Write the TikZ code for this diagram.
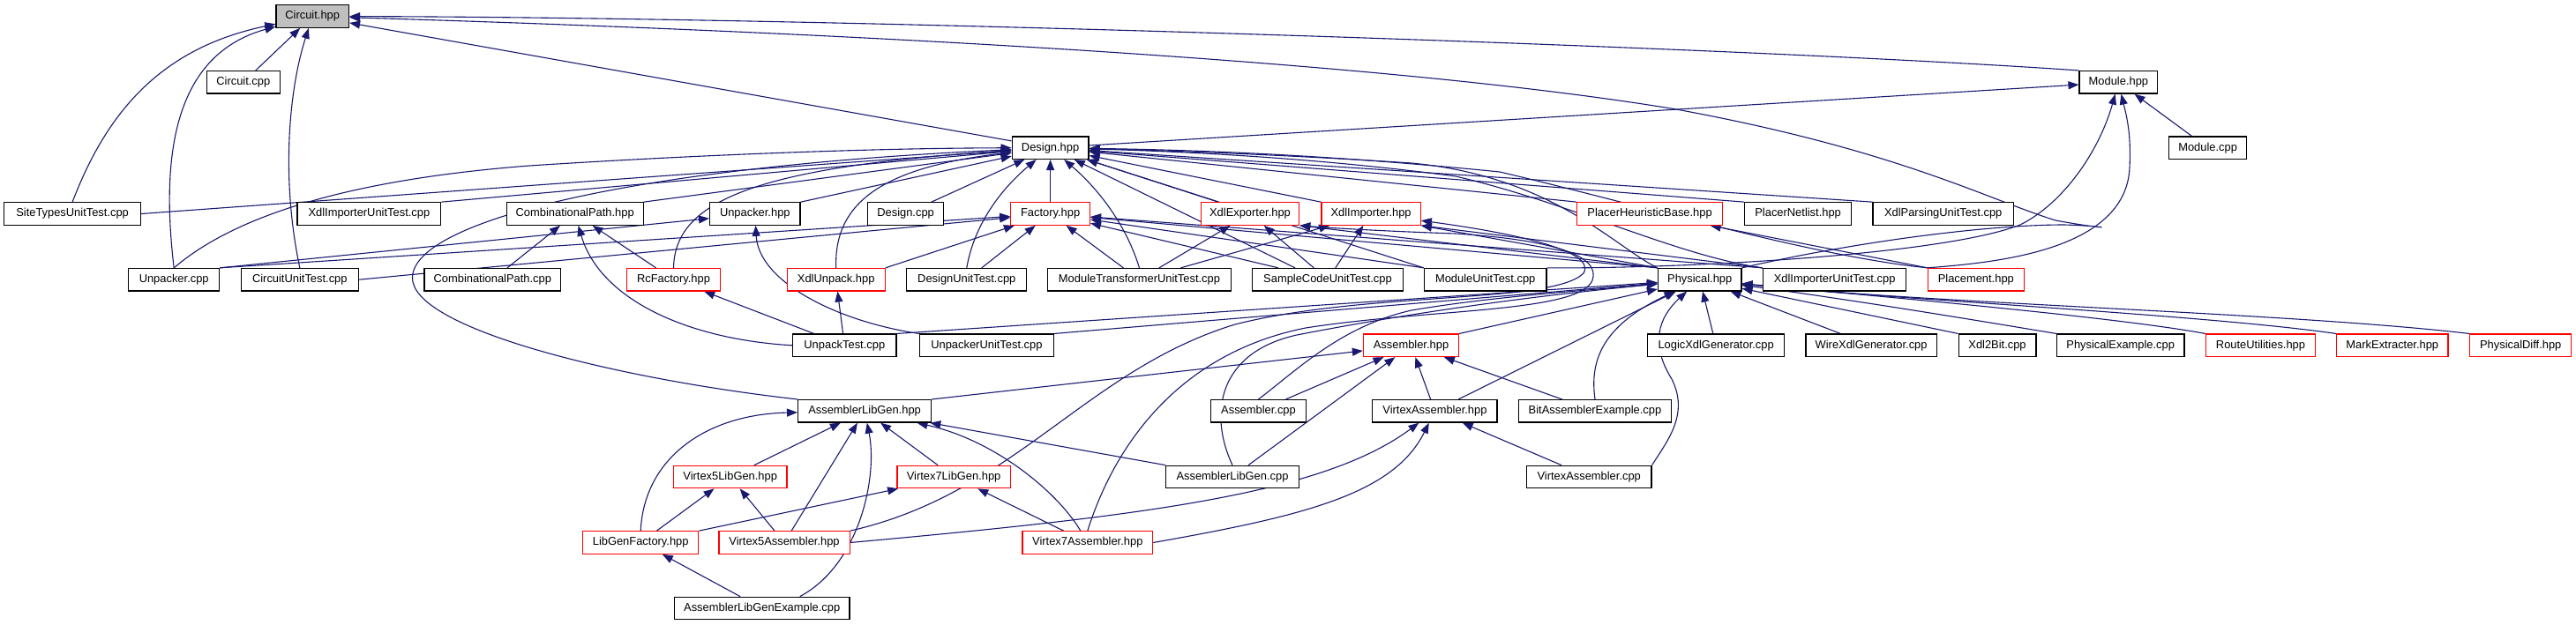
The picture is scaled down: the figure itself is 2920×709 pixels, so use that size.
\documentclass[tikz,border=0pt]{standalone}
\usepackage{fontspec}
\setmainfont{Liberation Sans}
\usetikzlibrary{arrows.meta}
\definecolor{edgec}{RGB}{25,25,112}
\definecolor{grayfill}{RGB}{191,191,191}
\pgfdeclarelayer{bg}
\pgfsetlayers{bg,main}
\begin{document}
\begin{tikzpicture}[x=1pt,y=-1pt,
  box/.style={draw=black,line width=1.2pt,fill=white,minimum height=25.5pt,inner sep=0pt,font=\fontsize{12.9pt}{15pt}\selectfont},
  redbox/.style={box,draw=red},
  dep/.style={draw=edgec,line width=1.1pt,-{Triangle[length=12pt,width=9pt]}}]
\path[use as bounding box] (0,0) rectangle (2920,709);
% rank 0
\node[box,fill=grayfill,minimum width=82.6pt] (circuithpp) at (354.2,18.5) {Circuit.hpp};
% rank 1
\node[box,minimum width=82.6pt] (circuitcpp) at (275.8,93.3) {Circuit.cpp};
\node[box,minimum width=88.7pt] (modulehpp) at (2401.4,93.3) {Module.hpp};
% rank 2
\node[box,minimum width=86.8pt] (designhpp) at (1190.6,167.7) {Design.hpp};
\node[box,minimum width=88.3pt] (modulecpp) at (2502.6,167.7) {Module.cpp};
% rank 3
\node[box,minimum width=154.8pt] (sitetypes) at (82.1,242.5) {SiteTypesUnitTest.cpp};
\node[box,minimum width=162.7pt] (xdlimputa) at (418.4,242.5) {XdlImporterUnitTest.cpp};
\node[box,minimum width=154.8pt] (combhpp) at (651.7,242.5) {CombinationalPath.hpp};
\node[box,minimum width=102.4pt] (unpackerhpp) at (855.8,242.5) {Unpacker.hpp};
\node[box,minimum width=86.4pt] (designcpp) at (1026.6,242.5) {Design.cpp};
\node[redbox,minimum width=89.6pt] (factoryhpp) at (1190.6,242.5) {Factory.hpp};
\node[redbox,minimum width=111.3pt] (xdlexporter) at (1417,242.5) {XdlExporter.hpp};
\node[redbox,minimum width=112.2pt] (xdlimporter) at (1554.1,242.5) {XdlImporter.hpp};
\node[redbox,minimum width=164.8pt] (placerheur) at (1870.1,242.5) {PlacerHeuristicBase.hpp};
\node[box,minimum width=120.7pt] (placernet) at (2038.1,242.5) {PlacerNetlist.hpp};
\node[box,minimum width=159.3pt] (xdlparsing) at (2202.7,242.5) {XdlParsingUnitTest.cpp};
% rank 4
\node[box,minimum width=102.9pt] (unpackercpp) at (197.2,317.2) {Unpacker.cpp};
\node[box,minimum width=133.1pt] (circuitut) at (339.8,317.2) {CircuitUnitTest.cpp};
\node[box,minimum width=154.8pt] (combcpp) at (558.3,317.2) {CombinationalPath.cpp};
\node[redbox,minimum width=105.7pt] (rcfactory) at (763.5,317.2) {RcFactory.hpp};
\node[redbox,minimum width=110.9pt] (xdlunpack) at (947.7,317.2) {XdlUnpack.hpp};
\node[box,minimum width=135.9pt] (designut) at (1095.8,317.2) {DesignUnitTest.cpp};
\node[box,minimum width=207.7pt] (modtrans) at (1291.5,317.2) {ModuleTransformerUnitTest.cpp};
\node[box,minimum width=170.3pt] (samplecode) at (1505,317.2) {SampleCodeUnitTest.cpp};
\node[box,minimum width=138.7pt] (moduleut) at (1683.7,317.2) {ModuleUnitTest.cpp};
\node[box,minimum width=94.4pt] (physicalhpp) at (1926.7,317.2) {Physical.hpp};
\node[box,minimum width=162.4pt] (xdlimputb) at (2079.6,317.2) {XdlImporterUnitTest.cpp};
\node[redbox,minimum width=108.7pt] (placement) at (2239.8,317.2) {Placement.hpp};
% rank 5
\node[box,minimum width=117.5pt] (unpacktest) at (957.3,391.8) {UnpackTest.cpp};
\node[box,minimum width=152pt] (unpackerut) at (1118.4,391.8) {UnpackerUnitTest.cpp};
\node[redbox,minimum width=108.1pt] (assemblerhpp) at (1599.5,391.8) {Assembler.hpp};
\node[box,minimum width=154.8pt] (logicxdl) at (1945.1,391.8) {LogicXdlGenerator.cpp};
\node[box,minimum width=148.2pt] (wirexdl) at (2121.1,391.8) {WireXdlGenerator.cpp};
\node[box,minimum width=87.8pt] (xdltobit) at (2264,391.8) {Xdl2Bit.cpp};
\node[box,minimum width=144.4pt] (physex) at (2403.7,391.8) {PhysicalExample.cpp};
\node[redbox,minimum width=124.1pt] (routeutil) at (2562.5,391.8) {RouteUtilities.hpp};
\node[redbox,minimum width=126.4pt] (markext) at (2711.8,391.8) {MarkExtracter.hpp};
\node[redbox,minimum width=115.2pt] (physdiff) at (2857.2,391.8) {PhysicalDiff.hpp};
% rank 6
\node[box,minimum width=151pt] (alghpp) at (980.1,466.3) {AssemblerLibGen.hpp};
\node[box,minimum width=107.6pt] (assemblercpp) at (1426.5,466.3) {Assembler.cpp};
\node[box,minimum width=141.1pt] (vahpp) at (1626.4,466.3) {VirtexAssembler.hpp};
\node[box,minimum width=173.2pt] (bitasm) at (1808,466.3) {BitAssemblerExample.cpp};
% rank 7
\node[redbox,minimum width=128.4pt] (vfivelg) at (827.7,541) {Virtex5LibGen.hpp};
\node[redbox,minimum width=128.4pt] (vsevenlg) at (1081.1,541) {Virtex7LibGen.hpp};
\node[box,minimum width=150.5pt] (algcpp) at (1397,541) {AssemblerLibGen.cpp};
\node[box,minimum width=141.6pt] (vacpp) at (1801.2,541) {VirtexAssembler.cpp};
% rank 8
\node[redbox,minimum width=131.1pt] (lgf) at (726.2,615.5) {LibGenFactory.hpp};
\node[redbox,minimum width=148.2pt] (vfiveasm) at (889,615.5) {Virtex5Assembler.hpp};
\node[redbox,minimum width=147.7pt] (vsevenasm) at (1232.8,615.5) {Virtex7Assembler.hpp};
% rank 9
\node[box,minimum width=198.7pt] (lgex) at (863.7,690) {AssemblerLibGenExample.cpp};

\begin{pgfonlayer}{bg}
% into Circuit.hpp
\draw[dep] (circuitcpp) -- (circuithpp);
\draw[dep] (sitetypes.north) .. controls (120,130) and (180,55) .. (circuithpp);
\draw[dep] (unpackercpp.north) .. controls (180,160) and (205,60) .. (circuithpp);
\draw[dep] (circuitut.north) .. controls (318,200) and (328,100) .. (circuithpp);
\draw[dep] (designhpp) -- (circuithpp);
\draw[dep] (modulehpp.north west) .. controls (2000,55) and (1000,20) .. (circuithpp);
\draw[dep] (physicalhpp.north east) .. controls (2100,275) and (2250,255) .. (2340,255)
  .. controls (2400,257) and (2395,262) .. (2330,250)
  .. controls (2250,225) and (2150,170) .. (1900,124)
  .. controls (1550,66) and (900,35) .. (circuithpp);
% into Module.hpp
\draw[dep] (designhpp) -- (modulehpp);
\draw[dep] (modulecpp) -- (modulehpp);
\draw[dep] (moduleut.north east) .. controls (1900,305) and (2200,290) .. (2290,255)
  .. controls (2340,230) and (2380,170) .. (modulehpp);
\draw[dep] (placement.north west) .. controls (2260,298) and (2410,285) .. (2414,190)
  .. controls (2416,150) and (2410,130) .. (modulehpp);
% into Design.hpp
\draw[dep] (sitetypes.east) -- (designhpp);
\draw[dep] (xdlimputa.north east) -- (designhpp);
\draw[dep] (combhpp.north east) -- (designhpp);
\draw[dep] (unpackerhpp.north east) -- (designhpp);
\draw[dep] (designcpp) -- (designhpp);
\draw[dep] (factoryhpp) -- (designhpp);
\draw[dep] (unpackercpp.north) .. controls (260,250) and (380,205) .. (600,188)
  .. controls (800,175) and (1000,168) .. (designhpp);
\draw[dep] (rcfactory.north) .. controls (765,230) and (850,190) .. (designhpp);
\draw[dep] (xdlunpack.north) .. controls (945,230) and (1000,190) .. (designhpp);
\draw[dep] (designut.north) .. controls (1105,250) and (1140,210) .. (designhpp);
\draw[dep] (modtrans.north) .. controls (1275,250) and (1240,210) .. (designhpp);
\draw[dep] ([xshift=-37pt]samplecode.north) -- (designhpp);
\draw[dep] (alghpp.north west) .. controls (700,430) and (480,375) .. (468,320)
  .. controls (455,255) and (700,190) .. (designhpp);
\draw[dep] ([xshift=-36pt]xdlexporter.north) -- (designhpp);
\draw[dep] (xdlimporter.north west) -- (designhpp);
\draw[dep] (placerheur.north west) -- (designhpp);
\draw[dep] (placernet.north west) -- (designhpp);
\draw[dep] (xdlparsing.north west) -- (designhpp);
\draw[dep] (moduleut.north west) -- (designhpp);
\draw[dep] (physicalhpp.north west) .. controls (1830,280) and (1760,200) .. (1600,185)
  .. controls (1450,175) and (1300,170) .. (designhpp);
\draw[dep] (xdlimputb.north west) .. controls (1900,290) and (1780,230) .. (1650,200)
  .. controls (1500,180) and (1350,172) .. (designhpp);
\draw[dep] (placement.north west) .. controls (2050,290) and (1850,230) .. (1700,195)
  .. controls (1500,175) and (1350,170) .. (designhpp);
% into Factory.hpp
\draw[dep] (unpackercpp.north east) -- (factoryhpp);
\draw[dep] (circuitut.east) -- (factoryhpp);
\draw[dep] (xdlunpack.north east) -- (factoryhpp);
\draw[dep] (designut) -- (factoryhpp);
\draw[dep] (modtrans) -- (factoryhpp);
\draw[dep] (samplecode) -- (factoryhpp);
\draw[dep] (moduleut.north west) -- (factoryhpp);
\draw[dep] (physicalhpp.north west) -- (factoryhpp);
\draw[dep] (xdlimputb.north west) -- (factoryhpp);
% into Unpacker.hpp
\draw[dep] (unpackercpp.north east) -- (unpackerhpp);
\draw[dep] (unpackerut.north west) .. controls (950,365) and (860,320) .. (unpackerhpp);
% into XdlExporter / XdlImporter
\draw[dep] (modtrans) -- (xdlexporter);
\draw[dep] (samplecode) -- (xdlexporter);
\draw[dep] (physicalhpp.north west) -- (xdlexporter.south east);
\draw[dep] (modtrans) -- (xdlimporter);
\draw[dep] (samplecode) -- (xdlimporter);
\draw[dep] (physicalhpp.north west) -- (xdlimporter.south east);
\draw[dep] (xdlimputb.north west) -- (xdlimporter.south east);
\draw[dep] (vfiveasm.north east) .. controls (1150,560) and (1230,420) .. (1400,368)
  .. controls (1550,330) and (1760,345) .. (1795,310)
  .. controls (1810,285) and (1720,265) .. (xdlimporter);
\draw[dep] (vsevenasm.north) .. controls (1265,500) and (1340,400) .. (1480,372)
  .. controls (1620,350) and (1790,355) .. (1805,318)
  .. controls (1815,290) and (1760,272) .. (1650,265)
  .. controls (1560,262) and (1500,258) .. (xdlexporter.south east);
% into PlacerHeuristicBase
\draw[dep] (placement.north west) -- (placerheur);
% into CombinationalPath.hpp
\draw[dep] (combcpp) -- (combhpp);
\draw[dep] (rcfactory) -- (combhpp);
\draw[dep] (unpacktest.west) .. controls (780,385) and (680,340) .. (combhpp);
% into RcFactory / XdlUnpack
\draw[dep] (unpacktest) -- (rcfactory);
\draw[dep] (unpacktest) -- (xdlunpack);
% into Physical.hpp
\draw[dep] (unpacktest.north east) -- (physicalhpp);
\draw[dep] (unpackerut.north east) -- (physicalhpp);
\draw[dep] (assemblerhpp.north east) -- (physicalhpp);
\draw[dep] (algcpp.north) .. controls (1370,470) and (1380,400) .. (1470,380)
  .. controls (1650,345) and (1800,330) .. (physicalhpp);
\draw[dep] (assemblercpp.north) .. controls (1470,420) and (1520,370) .. (1600,352)
  .. controls (1700,335) and (1820,328) .. (physicalhpp);
\draw[dep] (vahpp) -- (physicalhpp);
\draw[dep] (bitasm.north) .. controls (1802,410) and (1815,370) .. (physicalhpp);
\draw[dep] (vacpp.north east) .. controls (1890,500) and (1915,470) .. (1895,430)
  .. controls (1870,390) and (1880,360) .. (physicalhpp);
\draw[dep] (logicxdl) -- (physicalhpp);
\draw[dep] (wirexdl) -- (physicalhpp);
\draw[dep] (xdltobit.north west) -- (physicalhpp);
\draw[dep] (physex.north west) .. controls (2250,365) and (2100,340) .. (physicalhpp);
\draw[dep] (routeutil.north west) .. controls (2400,360) and (2150,338) .. (physicalhpp);
\draw[dep] (markext.north west) .. controls (2500,357) and (2150,340) .. (physicalhpp);
\draw[dep] (physdiff.north west) .. controls (2600,355) and (2200,345) .. (physicalhpp);
% into Assembler.hpp
\draw[dep] (alghpp.north east) -- (assemblerhpp);
\draw[dep] (algcpp) -- (assemblerhpp);
\draw[dep] (assemblercpp) -- (assemblerhpp);
\draw[dep] (vahpp) -- (assemblerhpp);
\draw[dep] (bitasm) -- (assemblerhpp);
% into AssemblerLibGen.hpp
\draw[dep] (vfivelg) -- (alghpp);
\draw[dep] (vfiveasm) -- (alghpp);
\draw[dep] ([xshift=43pt]lgex.north) .. controls (975,640) and (995,540) .. (alghpp);
\draw[dep] (vsevenlg) -- (alghpp);
\draw[dep] ([xshift=-8pt]vsevenasm.north) .. controls (1200,560) and (1130,500) .. (alghpp);
\draw[dep] (algcpp.north west) -- (alghpp);
\draw[dep] (lgf.north) .. controls (730,520) and (800,470) .. (alghpp);
% into Virtex5LibGen / Virtex7LibGen
\draw[dep] (lgf) -- (vfivelg);
\draw[dep] (vfiveasm) -- (vfivelg);
\draw[dep] (lgf.north east) -- (vsevenlg);
\draw[dep] (vsevenasm) -- (vsevenlg);
% into VirtexAssembler.hpp
\draw[dep] (vacpp) -- (vahpp);
\draw[dep] (vfiveasm.east) .. controls (1300,585) and (1500,560) .. (vahpp);
\draw[dep] (vsevenasm.east) .. controls (1480,585) and (1580,560) .. (vahpp);
% into LibGenFactory
\draw[dep] (lgex) -- (lgf);
\end{pgfonlayer}
\end{tikzpicture}
\end{document}
